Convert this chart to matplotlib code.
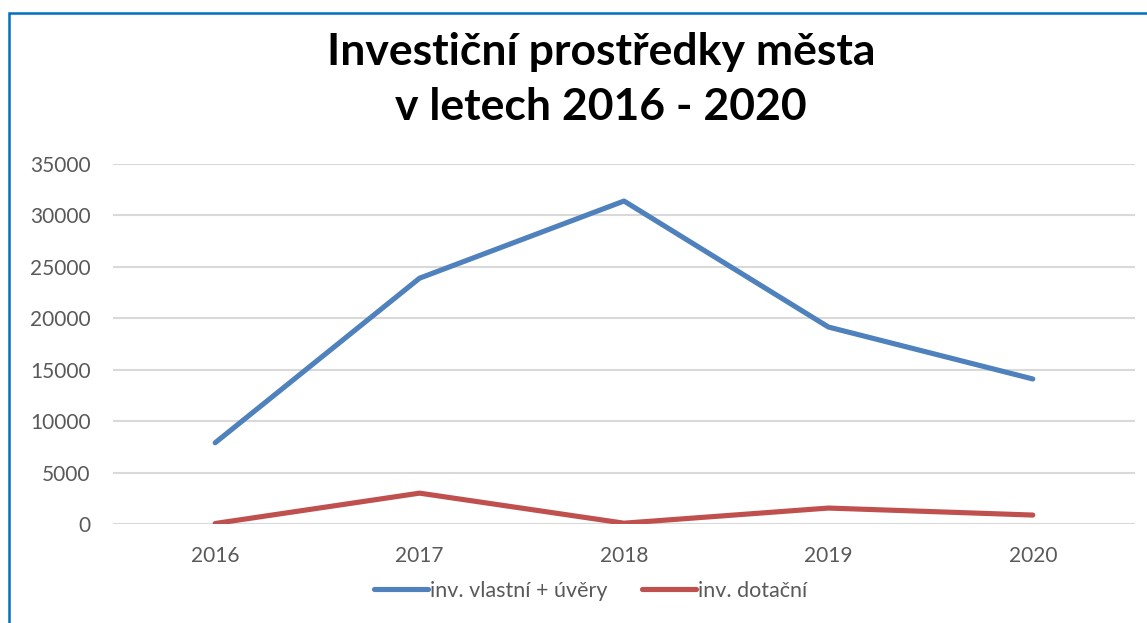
import matplotlib
matplotlib.use("Agg")
import matplotlib.pyplot as plt
from matplotlib.patches import Rectangle

roky = ["2016", "2017", "2018", "2019", "2020"]
vlastni = [7900, 23900, 31400, 19150, 14100]
dotacni = [50, 3000, 80, 1550, 870]
y_ticks = [0, 5000, 10000, 15000, 20000, 25000, 30000, 35000]

plt.rcParams['font.family'] = ['Lato', 'DejaVu Sans']

fig = plt.figure(figsize=(11.47, 6.23), dpi=100)
ax = fig.add_axes([113/1147, 1 - 524/623, (1135 - 113)/1147, (524 - 164)/623])

x = range(len(roky))
ax.plot(x, vlastni, color='#4f81bd', lw=3.7, solid_capstyle='round',
        solid_joinstyle='round', label='inv. vlastní + úvěry', zorder=3)
ax.plot(x, dotacni, color='#c0504d', lw=3.7, solid_capstyle='round',
        solid_joinstyle='round', label='inv. dotační', zorder=3)

ax.set_xlim(-0.5, len(roky) - 0.5)
ax.set_ylim(0, 35000)
ax.set_yticks(y_ticks)
ax.set_yticklabels([str(v) for v in y_ticks])
ax.set_xticks(list(x))
ax.set_xticklabels(roky)
ax.grid(axis='y', color='#d9d9d9', lw=1.5, zorder=0)
ax.set_axisbelow(True)
for s in ax.spines.values():
    s.set_visible(False)
ax.tick_params(length=0, labelsize=15, labelcolor='#595959')
ax.tick_params(axis='y', pad=16)
ax.tick_params(axis='x', pad=16)

# titulek je v originale posunuty trochu doprava
fig.text(601/1147, 1 - 52/623, "Investiční prostředky města", ha='center', va='center',
         fontsize=32, fontweight='bold', color='black')
fig.text(601/1147, 1 - 107/623, "v letech 2016 - 2020", ha='center', va='center',
         fontsize=32, fontweight='bold', color='black')

leg = fig.legend(loc='center', bbox_to_anchor=(591/1147, 1 - 591/623), ncol=2,
                 frameon=False, fontsize=15.5, handlelength=2.5, handletextpad=0.1,
                 columnspacing=1.6)
for t in leg.get_texts():
    t.set_color('#595959')

fig.patches.append(Rectangle((9/1147, -0.1), 1.2, 1 - 13/623 + 0.1,
                             transform=fig.transFigure, fill=False,
                             edgecolor='#0070c0', lw=1.8))

fig.savefig("out.png", dpi=100)
